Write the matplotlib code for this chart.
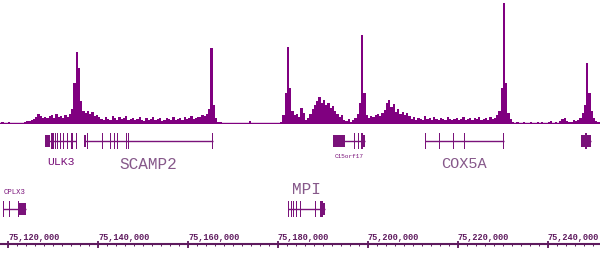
import numpy as np
import matplotlib
matplotlib.use('Agg')
import matplotlib.pyplot as plt

# ChIP-seq style signal, 500 bp bins starting at 75,118,000
bin_start = 75118000
bin_size = 500
signal = [0, 1, 0, 0, 1, 0, 0, 0, 0, 0, 0,
          1, 2, 2,
          3, 4, 6, 9, 7, 5,
          6, 5, 7, 8, 5, 9, 6,
          7, 5, 8, 6, 9,
          14, 40, 71, 55, 22, 12,
          10, 12, 9, 11, 7, 8, 6,
          4, 3, 6, 4, 3, 7, 5, 3, 6, 4, 5, 7, 3, 4, 5, 3, 4, 6, 3, 2,
          5, 3, 4, 6, 3, 4, 5, 2, 3, 5, 4, 3, 6, 3, 4, 5, 3, 6, 4, 5,
          7, 4, 5, 6,
          6, 8, 7, 9,
          14, 75, 18, 5, 1,
          1, 0, 0, 0, 0, 0, 0, 0, 0, 0, 0, 0,
          0, 2,
          0, 0, 0, 0, 0, 0, 0, 0, 0, 0, 0, 0, 0,
          1, 8, 30, 76, 35, 12, 8, 9, 6,
          15, 10, 3, 5, 9, 14, 18, 22, 26, 20, 23, 18, 20, 15, 17, 12, 9, 6, 8, 3,
          2, 4, 1, 3, 5, 9, 20, 88, 30, 8,
          5, 7, 6, 8, 9, 7, 10,
          13, 20, 23, 16, 19, 11, 14, 9, 11, 8, 10, 7,
          4, 6, 3, 5, 4, 3, 7, 4, 5, 3, 6, 4, 3, 5, 4, 3, 6, 4, 3, 4,
          5, 3, 4, 6, 3, 4, 5, 3, 5, 4, 6, 3, 4, 5, 3, 6, 4, 5, 8,
          12, 35, 120, 40, 10, 4,
          1, 0, 1, 0, 0, 1, 0, 0, 1, 0, 0, 1, 0, 1, 0, 0, 1, 2, 0, 1, 0, 2,
          4, 5, 2, 1, 1, 3, 2, 3, 5,
          10, 18, 60, 30, 12, 5,
          2, 1, 1]

# gene models: name, exons (start, end)
gene_names = ['ULK3', 'SCAMP2', 'C15orf17', 'COX5A', '', 'CPLX3', 'MPI']
gene_rows = [0, 0, 0, 0, 0, 1, 1]
gene_exons = [
    [(75128200, 75129350), (75129500, 75129650), (75129880, 75130030), (75130400, 75130550),
     (75130900, 75131050), (75131500, 75131650), (75132230, 75132380), (75133120, 75133270),
     (75134100, 75134250), (75135000, 75135150)],
    [(75136850, 75137330), (75137450, 75137600), (75140780, 75140930), (75142600, 75142750),
     (75143500, 75143650), (75144220, 75144370), (75146160, 75146310), (75146680, 75146830),
     (75165400, 75165550)],
    [(75192200, 75194900), (75196820, 75196970), (75197780, 75197930), (75198530, 75198680),
     (75199000, 75199400)],
    [(75212600, 75212750), (75215780, 75215930), (75218900, 75219050), (75221330, 75221480),
     (75230000, 75230150)],
    [(75247270, 75249490), (75248300, 75248450)],
    [(75118780, 75118930), (75120220, 75120370), (75122220, 75122370), (75122450, 75123930)],
    [(75182250, 75182400), (75182830, 75182980), (75183390, 75183540), (75183950, 75184100),
     (75184850, 75185000), (75188150, 75188300), (75189270, 75189420), (75189640, 75189790),
     (75189850, 75190450)],
]

major_ticks = [75120000, 75140000, 75160000, 75180000, 75200000, 75220000, 75240000]
tick_labels = ['75,120,000', '75,140,000', '75,160,000', '75,180,000',
               '75,200,000', '75,220,000', '75,240,000']

purple = '#800080'
gene_col = '#7a127a'
label_col = '#86588a'
axis_col = '#5e1a5e'

x0, x1 = 75118222, 75251556

fig = plt.figure(figsize=(6, 2.64), dpi=100)
fig.patch.set_facecolor('white')

# signal track
ax = fig.add_axes([0, 1 - 124 / 264, 1, 124 / 264])
ax.bar(bin_start + bin_size * np.arange(len(signal)), signal, width=bin_size,
       align='edge', color=purple, linewidth=0)
ax.axhline(0, color=purple, lw=1.0)
ax.set_xlim(x0, x1)
ax.set_ylim(-1, 123)
ax.axis('off')

# genes + coordinate axis, y in pixel rows
ax2 = fig.add_axes([0, 0, 1, 140 / 264])
ax2.set_xlim(x0, x1)
ax2.set_ylim(264, 124)
ax2.axis('off')

row_y = [141, 209]
label_y = {'ULK3': 162, 'SCAMP2': 164.5, 'C15orf17': 157, 'COX5A': 164.5,
           'CPLX3': 192, 'MPI': 190}
label_size = {'ULK3': 8.2, 'SCAMP2': 11.5, 'C15orf17': 4.3, 'COX5A': 11,
              'CPLX3': 5.2, 'MPI': 11.5}

for name, row, exons in zip(gene_names, gene_rows, gene_exons):
    y = row_y[row]
    g0 = min(s for s, e in exons)
    g1 = max(e for s, e in exons)
    ax2.hlines(y, g0, g1, color=gene_col, lw=1.0)
    for s, e in exons:
        w = max(e - s, 260)
        h = 16 if (e - s) < 400 else 12
        ax2.bar(s, h, width=w, bottom=y - h / 2, align='edge', color=gene_col, linewidth=0)
    if name:
        ax2.text((g0 + g1) / 2, label_y[name], name, ha='center', va='center',
                 family='Liberation Mono', fontsize=label_size[name],
                 color=label_col if label_size[name] > 9 else gene_col)

# coordinate ruler
ax2.hlines(244, x0, x1, color=axis_col, lw=1.5)
minor = np.arange(75118000, 75252000, 2000)
ax2.vlines(minor, 243, 246, color=axis_col, lw=0.7)
ax2.vlines(major_ticks, 241, 248, color=axis_col, lw=1.3)
for t, lab in zip(major_ticks, tick_labels):
    ax2.text(t, 240.5, lab, ha='left', va='baseline', family='Liberation Mono',
             fontweight='bold', fontsize=6.2, color=axis_col)

fig.savefig('out.png', dpi=100, facecolor='white')
